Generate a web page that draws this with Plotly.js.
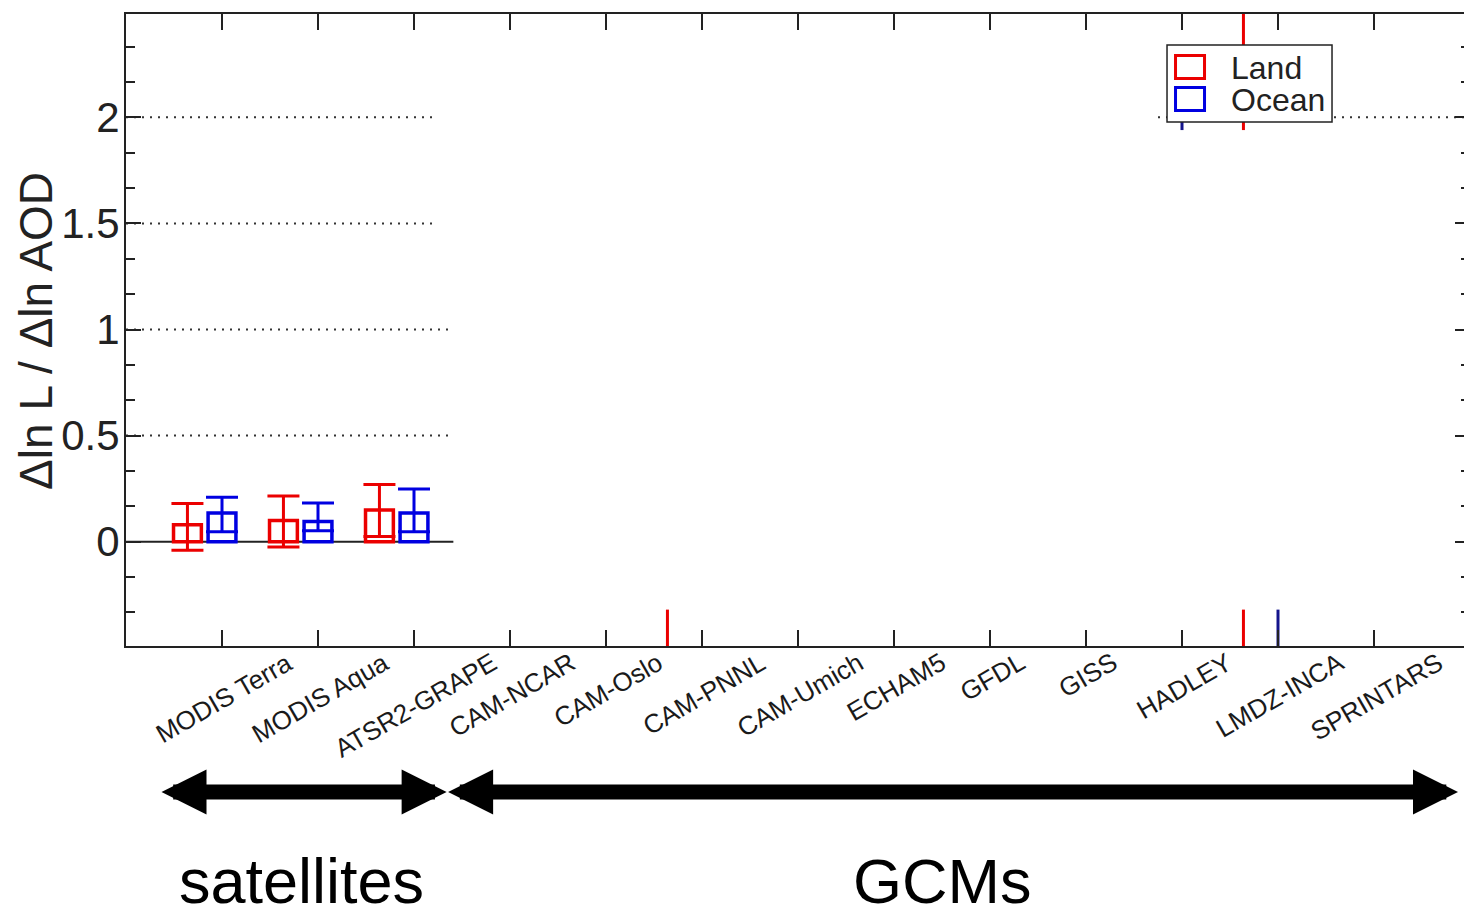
<!DOCTYPE html>
<html>
<head>
<meta charset="utf-8">
<script src="https://cdn.plot.ly/plotly-3.0.1.min.js"></script>
<style>html,body{margin:0;padding:0;overflow:hidden;background:#fff;}</style>
</head>
<body>
<div id="chart"></div>
<script>
// ---------------- data ----------------
const categories = ['MODIS Terra','MODIS Aqua','ATSR2-GRAPE','CAM-NCAR','CAM-Oslo','CAM-PNNL',
                    'CAM-Umich','ECHAM5','GFDL','GISS','HADLEY','LMDZ-INCA','SPRINTARS'];
const landValues     = [0.080, 0.100, 0.150, null, null, null, null, null, null, null, null, null, null];
const landErrPlus    = [0.100, 0.115, 0.120, null, null, null, null, null, null, null, null, null, null];
const landErrMinus   = [0.120, 0.125, 0.125, null, null, null, null, null, null, null, null, null, null];
const oceanValues    = [0.135, 0.095, 0.135, null, null, null, null, null, null, null, null, null, null];
const oceanErrPlus   = [0.075, 0.087, 0.113, null, null, null, null, null, null, null, null, null, null];
const oceanErrMinus  = [0.088, 0.043, 0.088, null, null, null, null, null, null, null, null, null, null];
// visible fragments of GCM whiskers (rest of the GCM marks is blanked out in the source figure)
const landFragCats   = ['CAM-PNNL', 'LMDZ-INCA', 'LMDZ-INCA'];
const landFragLow    = [-0.60, 1.94, -0.60];
const landFragHigh   = [-0.32, 2.60, -0.32];
const oceanFragCats  = ['HADLEY', 'LMDZ-INCA'];
const oceanFragLow   = [1.94, -0.60];
const oceanFragHigh  = [2.20, -0.32];
const seriesNames    = ['Land', 'Ocean'];
const groupNames     = ['satellites', 'GCMs'];
const yTitle         = 'Δln L / Δln AOD';

// ---------------- style ----------------
const FONT = 'Liberation Sans, Arial, Helvetica, sans-serif';
const RED = 'rgb(235,0,0)';
const BLUE = 'rgb(0,0,225)';
const NAVY = 'rgb(20,20,140)';
const INK = '#222';
const BAR_W = 0.29;
const LAND_SHIFT = -0.36;   // land box sits left of the category tick
const positions = categories.map((c, i) => i + 1);

function fragTrace(cats, lo, hi, shift, color) {
  const x = [], y = [];
  cats.forEach((c, k) => {
    const p = categories.indexOf(c) + 1 + shift;
    x.push(p, p, null); y.push(lo[k], hi[k], null);
  });
  return {type:'scatter', mode:'lines', x, y, line:{color, width:3}, hoverinfo:'skip', showlegend:false};
}

const traces = [
  {type:'bar', name: seriesNames[0], x: positions, y: landValues, width: BAR_W,
   offset: LAND_SHIFT - BAR_W/2,
   marker:{color:'rgba(0,0,0,0)', line:{color:RED, width:3.5}},
   error_y:{type:'data', symmetric:false, array: landErrPlus, arrayminus: landErrMinus,
            color: RED, thickness: 3, width: 16}},
  {type:'bar', name: seriesNames[1], x: positions, y: oceanValues, width: BAR_W,
   offset: -BAR_W/2,
   marker:{color:'rgba(0,0,0,0)', line:{color:BLUE, width:3.5}},
   error_y:{type:'data', symmetric:false, array: oceanErrPlus, arrayminus: oceanErrMinus,
            color: BLUE, thickness: 3, width: 16}},
  fragTrace(landFragCats, landFragLow, landFragHigh, LAND_SHIFT, RED),
  fragTrace(oceanFragCats, oceanFragLow, oceanFragHigh, 0, NAVY)
];

// gridlines (dotted) only where the source still shows them
const dotted = {color:'#333', width:2, dash:'2px,6px'};
const shapes = [];
[[0.5,3.41],[1,3.41],[1.5,3.19],[2,3.19]].forEach(([lv, xe]) => {
  shapes.push({type:'line', layer:'below', xref:'x', yref:'y', x0:0, x1:xe, y0:lv, y1:lv, line:dotted});
});
shapes.push({type:'line', layer:'below', xref:'x', yref:'y', x0:10.75, x1:14, y0:2, y1:2, line:dotted});
shapes.push({type:'line', layer:'below', xref:'x', yref:'y', x0:0, x1:3.41, y0:0, y1:0, line:{color:INK, width:2}});

// legend box (drawn in pixels, anchored at its top-left corner)
const LEGX = 10.844, LEGY = 2.341;
function pxRect(x0, x1, y0, y1, line, fill) {
  return {type:'rect', layer:'above', xref:'x', yref:'y', xsizemode:'pixel', ysizemode:'pixel',
          xanchor: LEGX, yanchor: LEGY, x0, x1, y0, y1, line, fillcolor: fill};
}
shapes.push(pxRect(0, 165, 0, -77, {color:INK, width:1.5}, 'white'));
shapes.push(pxRect(8.5, 37.5, -10.5, -33.5, {color:RED, width:3}, 'rgba(0,0,0,0)'));
shapes.push(pxRect(8.5, 37.5, -42.5, -65.5, {color:BLUE, width:3}, 'rgba(0,0,0,0)'));

const annotations = [];
// y-axis title
annotations.push({x: -0.0665, y: 0.498, xref:'paper', yref:'paper', text: yTitle, showarrow:false,
  textangle: -90, xanchor:'center', yanchor:'middle', font:{family:FONT, size:46, color:INK}});
// category labels
categories.forEach((c, i) => {
  annotations.push({x: positions[i], y: 0.003, xref:'x', yref:'paper', text: c, showarrow:false,
    textangle: -30, xanchor:'center', yanchor:'top', xshift: 2,
    font:{family:FONT, size:26, color:'#1a1a1a'}});
});
// legend texts
seriesNames.forEach((s, i) => {
  annotations.push({x: LEGX, y: LEGY, xref:'x', yref:'y', text: s, showarrow:false,
    xanchor:'left', yanchor:'middle', xshift: 62, yshift: -23 - 32*i,
    font:{family:FONT, size:32, color:INK}});
});
// group arrows
[[0.354, 3.34], [3.34, 13.875]].forEach(([a, b]) => {
  annotations.push({x: b, y: -0.231, xref:'x', yref:'paper', ax: a, ay: 0, axref:'x', ayref:'pixel',
    text:'', showarrow:true, arrowside:'end+start', arrowhead:2, startarrowhead:2,
    arrowsize:0.6, startarrowsize:0.6, arrowwidth:15, arrowcolor:'#000', standoff:0, startstandoff:0});
});
// group names
[[groupNames[0], 1.833], [groupNames[1], 8.5]].forEach(([t, xc]) => {
  annotations.push({x: xc, y: -0.372, xref:'x', yref:'paper', text: t, showarrow:false,
    xanchor:'center', yanchor:'middle', font:{family:FONT, size:63, color:'#000'}});
});

const layout = {
  width: 1472, height: 912,
  margin: {l:126, r:2, t:14, b:266, pad:0},
  paper_bgcolor:'#fff', plot_bgcolor:'#fff',
  font:{family:FONT, color:INK},
  showlegend:false,
  barmode:'overlay',
  xaxis:{range:[0,14], tickvals: positions, ticktext: categories, showticklabels:false,
         ticks:'inside', ticklen:16, tickwidth:2, tickcolor:INK,
         showline:true, linewidth:2, linecolor:INK, mirror:'allticks',
         showgrid:false, zeroline:false, fixedrange:true},
  yaxis:{range:[-0.4915, 2.487], tick0:0, dtick:0.5,
         ticks:'inside', ticklen:15, tickwidth:2, tickcolor:INK,
         minor:{dtick:1/6, tick0:0, ticks:'inside', ticklen:9, tickwidth:2, tickcolor:INK, showgrid:false},
         showline:true, linewidth:2, linecolor:INK, mirror:'allticks',
         showgrid:false, zeroline:false, fixedrange:true,
         ticklabelstandoff:-4,
         tickfont:{family:FONT, size:42, color:INK}},
  shapes, annotations
};

Plotly.newPlot('chart', traces, layout, {displayModeBar:false, staticPlot:true});
</script>
</body>
</html>
